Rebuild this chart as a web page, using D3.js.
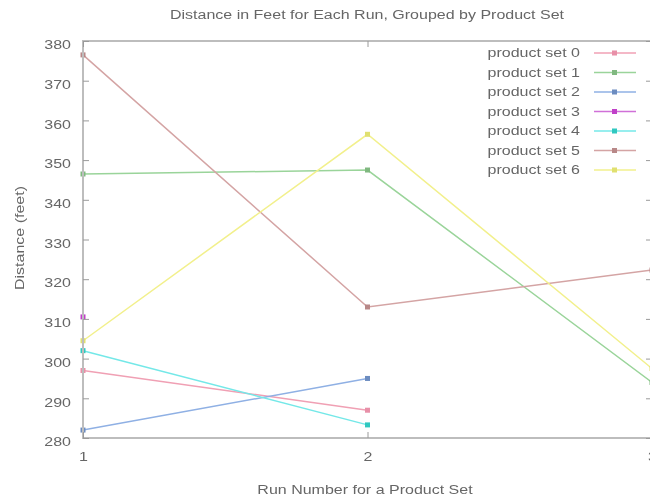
<!DOCTYPE html>
<html>
<head>
<meta charset="utf-8">
<script src="https://cdn.jsdelivr.net/npm/d3@7"></script>
<style>
  body { margin: 0; background: #fff; }
  svg { display: block; filter: blur(0.5px); }
  text { font-family: "Liberation Sans", Arial, sans-serif; fill: #666; }
</style>
</head>
<body>
<div id="chart"></div>
<script>
// distance per run, one array per product set
const runs = [1, 2, 3];
const setNames = ["product set 0", "product set 1", "product set 2", "product set 3",
                  "product set 4", "product set 5", "product set 6"];
const set0 = [297, 287];
const set1 = [346.5, 347.5, 294];
const set2 = [282, 295];
const set3 = [310.5];
const set4 = [302, 283.3];
const set5 = [376.5, 313, 322.3];
const set6 = [304.5, 356.5, 297.5];
const yTicks = [280, 290, 300, 310, 320, 330, 340, 350, 360, 370, 380];
const colors = ["#f0a0b4", "#9ad49a", "#8fb0e4", "#d070d8", "#74e8e8", "#d4a4a4", "#f2f08c"];
const markColors = ["#e890a8", "#80b880", "#6c8cc0", "#c040c8", "#30c8c0", "#b88888", "#e0e070"];

const series = [set0, set1, set2, set3, set4, set5, set6];

var width = 650;
var height = 499;
var margin = {left: 83, top: 41, right: -2, bottom: 61};
var stretch = 1.28; // the reference glyphs are wide and flat

var svg = d3.select("#chart").append("svg")
    .attr("width", width)
    .attr("height", height);

var x = d3.scaleLinear()
    .domain([1, 3])
    .range([margin.left, width - margin.right]);

var y = d3.scaleLinear()
    .domain([280, 380])
    .range([height - margin.bottom, margin.top]);

var plot = svg.append("g");

// data lines
series.forEach(function(vals, i) {
  var pts = vals.map(function(v, j) { return [runs[j], v]; });
  plot.append("path")
    .datum(pts)
    .attr("fill", "none")
    .attr("stroke", colors[i])
    .attr("stroke-width", 1.5)
    .attr("d", d3.line()
      .x(function(d) { return x(d[0]); })
      .y(function(d) { return y(d[1]); }));

  plot.selectAll(".pt" + i)
    .data(pts).enter()
    .append("rect")
      .attr("x", function(d) { return x(d[0]) - 2.5; })
      .attr("y", function(d) { return y(d[1]) - 2.5; })
      .attr("width", 5)
      .attr("height", 5)
      .attr("fill", markColors[i]);
});

// border
svg.append("rect")
  .attr("x", x(1))
  .attr("y", y(380))
  .attr("width", x(3) - x(1))
  .attr("height", y(280) - y(380))
  .attr("fill", "none")
  .attr("stroke", "#bdbdbd")
  .attr("stroke-width", 2);

// axes, ticks drawn inward like gnuplot
var yAxisL = d3.axisLeft(y).tickValues(yTicks).tickSize(-6).tickPadding(12);
var yAxisR = d3.axisRight(y).tickValues(yTicks).tickSize(-6).tickFormat("");
var xAxisB = d3.axisBottom(x).tickValues(runs).tickSize(-6).tickPadding(14).tickFormat(d3.format("d"));
var xAxisT = d3.axisTop(x).tickValues(runs).tickSize(-6).tickFormat("");

function styleAxis(g) {
  g.select(".domain").remove();
  g.selectAll(".tick line").attr("stroke", "#9a9a9a");
  g.selectAll(".tick text").attr("font-size", 12.5).attr("fill", "#666");
}

svg.append("g").attr("transform", "translate(" + x(1) + ",0)").call(yAxisL).call(styleAxis)
  .selectAll(".tick text").attr("dy", "0.62em");
svg.append("g").attr("transform", "translate(" + x(3) + ",0)").call(yAxisR).call(styleAxis);
svg.append("g").attr("transform", "translate(0," + y(280) + ")").call(xAxisB).call(styleAxis);
svg.append("g").attr("transform", "translate(0," + y(380) + ")").call(xAxisT).call(styleAxis);

// titles
svg.append("text")
  .attr("x", 367).attr("y", 19)
  .attr("text-anchor", "middle")
  .attr("font-size", 12.5)
  .text("Distance in Feet for Each Run, Grouped by Product Set");

svg.append("text")
  .attr("x", 365).attr("y", 494)
  .attr("text-anchor", "middle")
  .attr("font-size", 12.5)
  .text("Run Number for a Product Set");

svg.append("text")
  .attr("transform", "translate(24,238) rotate(-90)")
  .attr("text-anchor", "middle")
  .attr("font-size", 12.5)
  .text("Distance (feet)");

// legend
var legend = svg.append("g")
  .selectAll("g")
  .data(setNames).enter()
  .append("g")
    .attr("transform", function(d, i) { return "translate(0," + (53 + i * 19.5) + ")"; });

legend.append("text")
  .attr("x", 580)
  .attr("dy", "0.35em")
  .attr("text-anchor", "end")
  .attr("font-size", 12.5)
  .text(function(d) { return d; });

legend.append("line")
  .attr("x1", 594).attr("x2", 636)
  .attr("stroke", function(d, i) { return colors[i]; })
  .attr("stroke-width", 1.5);

legend.append("rect")
  .attr("x", 612).attr("y", -2.5)
  .attr("width", 5).attr("height", 5)
  .attr("fill", function(d, i) { return markColors[i]; });

// widen every label to match the reference's letter widths
svg.selectAll("text").each(function() {
  var w = this.getComputedTextLength();
  if (w > 0) {
    d3.select(this)
      .attr("textLength", w * stretch)
      .attr("lengthAdjust", "spacingAndGlyphs");
  }
});
</script>
</body>
</html>
